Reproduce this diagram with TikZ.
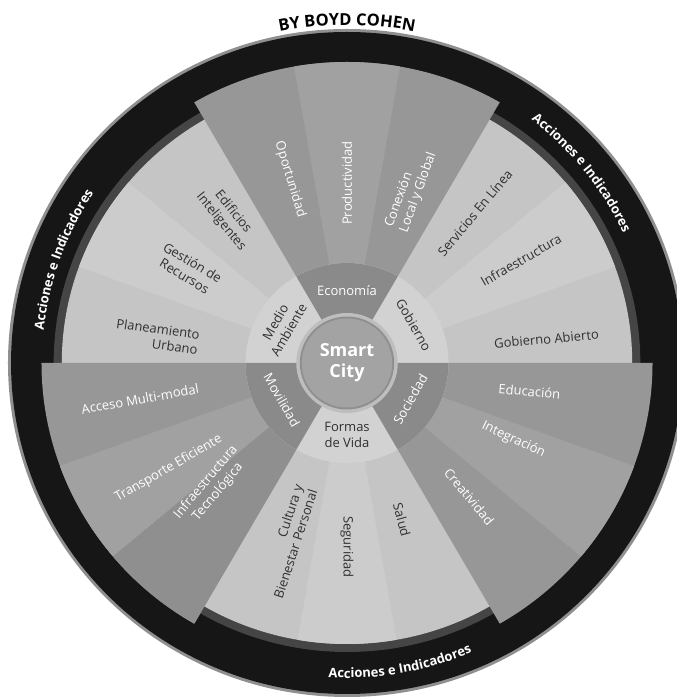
\documentclass[tikz,border=0pt]{standalone}
\usepackage{fontspec}
\setmainfont{Open Sans}
\usetikzlibrary{decorations.text}
\definecolor{rimgray}{HTML}{8F8F8F}
\definecolor{ringblack}{HTML}{161616}
\definecolor{bandgray}{HTML}{454545}
\definecolor{lightA}{HTML}{C5C5C5}
\definecolor{lightB}{HTML}{CCCCCC}
\definecolor{lightIn}{HTML}{D2D2D2}
\definecolor{darkA}{HTML}{979797}
\definecolor{darkB}{HTML}{A1A1A1}
\definecolor{darkC}{HTML}{8F8F8F}
\definecolor{darkIn}{HTML}{8A8A8A}
\definecolor{txtdark}{HTML}{303030}
\definecolor{hubring}{HTML}{BEBEBE}
\definecolor{hubfill}{HTML}{A3A3A3}
\newcommand\mywedge[4]{\fill[#1] (0,0) -- (#2:#4) arc[start angle=#2, end angle=#3, radius=#4] -- cycle;}
\tikzset{
  lbl/.style={font=\fontsize{13}{15.5}\selectfont, inner sep=1pt, align=center},
  lbld/.style={lbl, text=txtdark},
  lblw/.style={lbl, text=white},
  ringtext/.style={decorate, decoration={text along path, text align=center,
      text={|\bfseries\fontsize{13}{13}\selectfont\color{white}|Acciones e Indicadores}}},
}
\begin{document}
\begin{tikzpicture}[x=1pt,y=1pt]
\useasboundingbox (0,0) rectangle (677,699);
\fill[white] (0,0) rectangle (677,699);
\clip (0,0) rectangle (677,699);
\begin{scope}[shift={(347,336)}, xscale=1.015]
  % outer rings
  \fill[rimgray] (0,0) circle (334);
  \fill[ringblack] (0,0) circle (331);
  \fill[bandgray] (0,0) circle (289);
  % light sectors
  \fill[lightA] (0,0) circle (281);
  \mywedge{lightB}{20}{40}{281}
  \mywedge{lightB}{140}{160}{281}
  \mywedge{lightB}{260}{280}{281}
  % dark sectors
  \mywedge{darkA}{60}{120}{301}
  \mywedge{darkA}{300}{360}{301}
  \mywedge{darkA}{180}{240}{301}
  \mywedge{darkB}{80}{100}{301}
  \mywedge{darkB}{320}{340}{301}
  \mywedge{darkB}{200}{220}{301}
  \mywedge{darkC}{220}{240}{301}
  % inner annulus
  \fill[lightIn] (0,0) circle (100);
  \mywedge{darkIn}{60}{120}{100}
  \mywedge{darkIn}{300}{360}{100}
  \mywedge{darkIn}{180}{240}{100}
  % hub
  \fill[hubring] (0,0) circle (50);
  \fill[darkC] (0,0) circle (46.5);
  \fill[hubfill] (0,0) circle (44.5);
  \node[text=white, font=\bfseries\fontsize{18}{21}\selectfont, align=center] (hub) at (0,0) {Smart\\City};
  % category labels
  \node[lblw] (eco) at (90:72) {Economía};
  \node[lbld, rotate=-60] (gob) at (30:76) {Gobierno};
  \node[lblw, rotate=60] (soc) at (-30:72) {Sociedad};
  \node[lbld] (vida) at (-90:72) {Formas\\de Vida};
  \node[lblw, rotate=-60] (mov) at (210:74) {Movilidad};
  \node[lbld, rotate=60] (med) at (150:74) {Medio\\Ambiente};
  % Economía
  \node[lblw, rotate=70, align=left] (con) at (70:184) {Conexión\\Local y Global};
  \node[lblw, rotate=90] (pro) at (90:180) {Productividad};
  \node[lblw, rotate=-73] (opo) at (107:192) {Oportunidad};
  % Medio Ambiente
  \node[lbld, rotate=-51] (edi) at (129:188) {Edificios\\Inteligentes};
  \node[lbld, rotate=-31] (ges) at (149:182) {Gestión de\\Recursos};
  \node[lbld, rotate=-8, align=right] (pla) at (172:189) {Planeamiento\\Urbano};
  % Movilidad
  \node[lblw, rotate=10] (acc) at (190:207) {Acceso Multi-modal};
  \node[lblw, rotate=30] (tra) at (211:205) {Transporte Eficiente};
  \node[lblw, rotate=50] (itec) at (223:182) {Infraestructura\\Tecnológica};
  % Formas de Vida
  \node[lbld, rotate=72, align=right] (cul) at (252:188) {Cultura y\\Bienestar Personal};
  \node[lbld, rotate=-90] (seg) at (-90:184) {Seguridad};
  \node[lbld, rotate=-75] (sal) at (-71:166) {Salud};
  % Sociedad
  \node[lblw, rotate=-50] (cre) at (-48:180) {Creatividad};
  \node[lblw, rotate=-25] (int) at (-25:181) {Integración};
  \node[lblw, rotate=-5] (edu) at (-9:182) {Educación};
  % Gobierno
  \node[lbld, rotate=5] (gab) at (7:198) {Gobierno Abierto};
  \node[lbld, rotate=30] (inf) at (31:200) {Infraestructura};
  \node[lbld, rotate=50] (ser) at (50:196) {Servicios En Línea};
\end{scope}
\begin{scope}[shift={(347,336)}]
  \path[ringtext] (64:305) arc[start angle=64, end angle=14, radius=305];
  \path[ringtext] (185:305) arc[start angle=185, end angle=135, radius=305];
  \path[ringtext] (-105:315) arc[start angle=-105, end angle=-55, radius=315];
  \path[decorate, decoration={text along path, text align=center,
      text={|\bfseries\fontsize{16.5}{16.5}\selectfont\color{black}|BY BOYD COHEN}}]
      (108:338) arc[start angle=108, end angle=72, radius=338];
\end{scope}
\end{tikzpicture}
\end{document}
